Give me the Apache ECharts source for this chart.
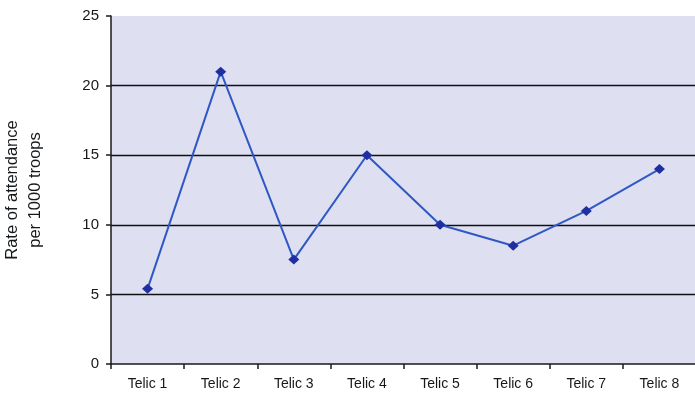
<!DOCTYPE html>
<html>
<head>
<meta charset="utf-8">
<script src="https://cdn.jsdelivr.net/npm/echarts@6/dist/echarts.min.js"></script>
<style>
  html, body { margin: 0; padding: 0; background: #ffffff; }
  #chart { width: 695px; height: 399px; }
</style>
</head>
<body>
<div id="chart"></div>
<script>
// Attendance rate per deployment
const categories = ['Telic 1', 'Telic 2', 'Telic 3', 'Telic 4', 'Telic 5', 'Telic 6', 'Telic 7', 'Telic 8'];
const rates = [5.4, 21, 7.5, 15, 10, 8.5, 11, 14];
const yTicks = [0, 5, 10, 15, 20, 25];

const chart = echarts.init(document.getElementById('chart'), null, { renderer: 'canvas' });

const textFont = 'Liberation Sans, Arial, sans-serif';
const textColor = '#15191c';

chart.setOption({
  animation: false,
  backgroundColor: '#ffffff',
  grid: {
    left: 111,
    top: 16,
    width: 585,
    height: 348,
    show: true,
    backgroundColor: '#dedff0',
    borderWidth: 0,
    containLabel: false,
    outerBoundsMode: 'none'
  },
  xAxis: {
    type: 'category',
    data: categories,
    boundaryGap: true,
    axisLine: { show: true, lineStyle: { color: '#1a1a1a', width: 1.5 } },
    axisTick: { show: true, alignWithLabel: false, length: 5, lineStyle: { color: '#1a1a1a', width: 1.5 } },
    axisLabel: {
      color: textColor,
      fontFamily: textFont,
      fontSize: 14,
      margin: 13
    },
    splitLine: { show: false }
  },
  yAxis: {
    type: 'value',
    min: yTicks[0],
    max: yTicks[yTicks.length - 1],
    interval: 5,
    name: 'Rate of attendance\nper 1000 troops',
    nameLocation: 'middle',
    nameRotate: 90,
    nameGap: 64,
    nameTextStyle: {
      color: textColor,
      fontFamily: textFont,
      fontSize: 16.5,
      lineHeight: 23
    },
    axisLine: { show: true, lineStyle: { color: '#1a1a1a', width: 1.5 } },
    axisTick: { show: true, inside: false, length: 5, lineStyle: { color: '#1a1a1a', width: 1.5 } },
    axisLabel: {
      color: textColor,
      fontFamily: textFont,
      fontSize: 15,
      margin: 12
    },
    splitLine: {
      show: true,
      lineStyle: { color: '#111111', width: 1.3 },
      showMaxLine: false,
      showMinLine: false
    }
  },
  series: [{
    type: 'line',
    data: rates,
    symbol: 'diamond',
    symbolSize: [11, 10],
    lineStyle: { color: '#2f58c4', width: 2 },
    itemStyle: { color: '#1f2fa0' }
  }]
});
</script>
</body>
</html>
